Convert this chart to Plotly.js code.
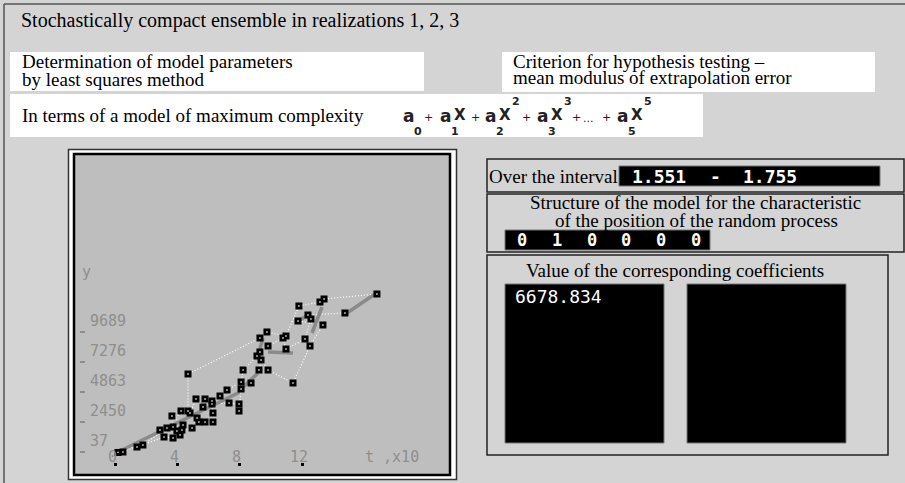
<!DOCTYPE html>
<html><head><meta charset="utf-8">
<script src="https://cdn.plot.ly/plotly-3.0.1.min.js"></script>
<style>html,body{margin:0;padding:0;background:#d4d4d4;}#chart{width:905px;height:483px;}</style>
</head><body><div id="chart"></div>
<script>
const W = 905, H = 483;

// ---- data: three realizations (t in units x10, y) ----
const r1x = [0.19, 1.79, 3.33, 4.23, 4.68, 4.68, 9.29, 9.74, 10.96, 11.79, 13.14, 13.40, 16.79];
const r1y = [0, 600, 1967, 3335, 3335, 6311, 9206, 9689, 9367, 11780, 12102, 12343, 12745];
const r2x = [0.51, 2.88, 3.72, 4.36, 3.65, 4.81, 5.19, 5.64, 5.77, 6.22, 6.73, 7.18, 8.08, 8.21, 9.10, 9.29, 9.81, 10.77, 10.96, 12.18, 12.56, 12.37, 14.74];
const r2y = [37, 1806, 2048, 2209, 2932, 3174, 4300, 3656, 4300, 4139, 4541, 5024, 5667, 6632, 7758, 8080, 8563, 9206, 8321, 9126, 10734, 11056, 11217];
const r3x = [1.41, 3.14, 3.72, 4.17, 3.97, 4.29, 4.94, 5.26, 5.38, 5.77, 6.28, 6.28, 6.22, 7.31, 7.95, 7.95, 8.08, 8.72, 9.23, 9.36, 9.81, 11.41, 12.50, 13.33, 11.73];
const r3y = [439, 1243, 1163, 1404, 1726, 1806, 1967, 2772, 2450, 2450, 2450, 3174, 3898, 3978, 3898, 3335, 5104, 5587, 6632, 7437, 6632, 5587, 8563, 10252, 10573];
// fitted model segments
const fitX = [0.13, 8.01, null, 8.01, 9.17, null, 9.49, 9.17, null, 9.81, 11.41, null, 11.86, 12.37, null, 13.27, 12.63, null, 14.87, 16.67];
const fitY = [0, 4863, null, 5024, 6391, null, 9206, 7839, null, 8080, 8000, null, 10654, 11056, null, 11699, 9608, null, 11217, 12745];

// ---- tick labels ----
const xTickVals = [0, 4, 8, 12];
const xTickText = ['0', '4', '8', '12'];
const yTickVals = [37, 2450, 4863, 7276, 9689];
const yTickText = ['37', '2450', '4863', '7276', '9689'];
const xAxisLabel = 't ,x10';
const yAxisLabel = 'y';

// ---- panel texts / values ----
const titleText = 'Stochastically compact ensemble in realizations 1, 2, 3';
const box1Lines = ['Determination of model parameters', 'by least squares method'];
const box2Lines = ['Criterion for hypothesis testing –', 'mean modulus of extrapolation error'];
const box3Text = 'In terms of a model of maximum complexity';
const formulaPowers = [0, 1, 2, 3, 5];
const intervalLabel = 'Over the interval';
const intervalFrom = '1.551', intervalTo = '1.755';
const structLines = ['Structure of the model for the characteristic', 'of the position of the random process'];
const structure = [0, 1, 0, 0, 0, 0];
const coefTitle = 'Value of the corresponding coefficients';
const coefficients = ['6678.834'];

// ---- helpers ----
const fx = p => p / W, fy = p => 1 - p / H;
const SERIF = 'Liberation Serif, Times New Roman, serif';
const MONO = 'DejaVu Sans Mono, monospace';
const SANS = 'DejaVu Sans, sans-serif';
const AXC = '#8e8e8e';
function rect(x0, y0, x1, y1, fill, lc, lw) {
  return {type: 'rect', xref: 'paper', yref: 'paper', x0: fx(x0), x1: fx(x1), y0: fy(y0), y1: fy(y1),
    fillcolor: fill, line: {color: lc || 'rgba(0,0,0,0)', width: lw || 0}, layer: 'below'};
}
function line(x0, y0, x1, y1, c, w) {
  return {type: 'line', xref: 'paper', yref: 'paper', x0: fx(x0), x1: fx(x1), y0: fy(y0), y1: fy(y1), line: {color: c, width: w}, layer: 'below'};
}
function ann(text, x, y, o) {
  return Object.assign({xref: 'paper', yref: 'paper', x: fx(x), y: fy(y), text: text, showarrow: false,
    xanchor: 'left', yanchor: 'middle', borderpad: 0, font: {family: SERIF, size: 19, color: '#000'}}, o || {});
}

const shapes = [
  line(4, 4, 4, 483, '#555', 1.5), line(4, 4, 905, 4, '#555', 1.5),
  rect(10, 52, 424, 91, '#fff'),
  rect(502, 52, 875, 92, '#fff'),
  rect(10, 94, 703, 137, '#fff'),
  rect(68.5, 149.5, 456.5, 479.5, '#fff', '#333', 1.5),
  rect(74, 154, 450, 475, '#bebebe', '#000', 2.5),
  rect(487, 159, 904, 192, 'rgba(0,0,0,0)', '#222', 1.5),
  rect(619, 166, 880, 186, '#000', '#777', 1),
  rect(487, 194, 904, 252, 'rgba(0,0,0,0)', '#222', 1.5),
  rect(505, 230, 710, 250, '#000', '#777', 1),
  rect(487, 255, 888, 455, 'rgba(0,0,0,0)', '#222', 1.5),
  rect(505, 284, 664, 443, '#000', '#777', 1),
  rect(687, 284, 846, 443, '#000', '#777', 1)
];

const AXFONT = {family: MONO, size: 15, color: AXC};
const annotations = [
  ann(titleText, 20, 21, {font: {family: SERIF, size: 20, color: '#000'}}),
  ann(box1Lines[0], 21, 62), ann(box1Lines[1], 21, 79),
  ann(box2Lines[0], 512, 61), ann(box2Lines[1], 512, 78),
  ann(box3Text, 21, 116),
  ann(intervalLabel, 488, 176),
  ann(intervalFrom, 631, 176, {font: {family: MONO, size: 18, color: '#fff', weight: 'bold'}}),
  ann('-', 709, 176, {font: {family: MONO, size: 18, color: '#fff', weight: 'bold'}}),
  ann(intervalTo, 742, 176, {font: {family: MONO, size: 18, color: '#fff', weight: 'bold'}}),
  ann(structLines[0], 695, 202, {xanchor: 'center'}),
  ann(structLines[1], 696, 221, {xanchor: 'center'}),
  ann(coefTitle, 675, 270, {xanchor: 'center'}),
  ann(coefficients[0], 514, 296, {font: {family: MONO, size: 18, color: '#fff'}}),
  ann(yAxisLabel, 81, 272, {font: AXFONT}),
  ann(xAxisLabel, 364, 457, {font: AXFONT})
];
structure.forEach((d, i) => annotations.push(ann(String(d), 516 + i * 34.8, 240, {font: {family: MONO, size: 17, color: '#fff', weight: 'bold'}})));
// axis tick labels, placed through the axes' own scales
xTickVals.forEach((v, i) => annotations.push({xref: 'x', yref: 'paper', x: v, y: fy(457), text: xTickText[i], showarrow: false,
  xanchor: 'center', yanchor: 'middle', xshift: -3, borderpad: 0, font: AXFONT}));
yTickVals.forEach((v, i) => annotations.push({xref: 'paper', yref: 'y', x: fx(89), y: v, text: yTickText[i], showarrow: false,
  xanchor: 'left', yanchor: 'middle', yshift: 11, borderpad: 0, font: AXFONT}));

// formula pieces
const aLeft = [403, 440, 485, 537, 617];
const plusLeft = [423, 470, 521, 571, 601];
const FMAIN = {family: SANS, size: 17, color: '#222', weight: 'bold'};
const FX = {family: SANS, size: 15, color: '#222', weight: 'bold'};
const FSMALL = {family: SANS, size: 11, color: '#222', weight: 'bold'};
const FPLUS = {family: SANS, size: 11, color: '#222'};
formulaPowers.forEach((p, i) => {
  const a = aLeft[i];
  annotations.push(ann('a', a - 1, 116, {font: FMAIN}));
  annotations.push(ann(String(p), a + 10, 131, {font: FSMALL}));
  if (p > 0) annotations.push(ann('X', a + 13, 115, {font: FX}));
  if (p > 1) annotations.push(ann(String(p), a + 26, 102, {font: FSMALL}));
});
plusLeft.forEach(x => annotations.push(ann('+', x, 117, {font: FPLUS})));
annotations.push(ann('...', 582, 119, {font: FPLUS}));

const dotLine = {color: '#ffffff', width: 1.2, dash: '1px,2px'};
const allX = r1x.concat(r2x, r3x), allY = r1y.concat(r2y, r3y);
const traces = [
  {x: r1x, y: r1y, mode: 'lines', line: dotLine, hoverinfo: 'skip'},
  {x: r2x, y: r2y, mode: 'lines', line: dotLine, hoverinfo: 'skip'},
  {x: r3x, y: r3y, mode: 'lines', line: dotLine, hoverinfo: 'skip'},
  {x: fitX, y: fitY, mode: 'lines', line: {color: '#8a8a8a', width: 3.5}, connectgaps: false},
  {x: allX, y: allY, mode: 'markers', marker: {symbol: 'square', size: 7, color: '#000', line: {width: 0}}},
  {x: allX, y: allY, mode: 'markers', marker: {symbol: 'square', size: 1.3, color: '#fff', line: {width: 0}}}
];

const layout = {
  width: W, height: H, margin: {l: 0, r: 0, t: 0, b: 0},
  paper_bgcolor: '#d4d4d4', plot_bgcolor: 'rgba(0,0,0,0)', showlegend: false,
  xaxis: {domain: [fx(78), fx(446)], range: [-2.372, 21.218], anchor: 'free', position: fy(462),
    showgrid: false, zeroline: false, showline: false, showticklabels: false,
    tickmode: 'array', tickvals: xTickVals,
    ticks: 'outside', ticklen: 3, tickwidth: 3, tickcolor: '#000'},
  yaxis: {domain: [fy(470), fy(156)], range: [-1411, 23844], anchor: 'free', position: fx(79),
    showgrid: false, zeroline: false, showline: false, showticklabels: false,
    tickmode: 'array', tickvals: yTickVals,
    ticks: 'inside', ticklen: 5, tickwidth: 1.5, tickcolor: AXC},
  shapes: shapes, annotations: annotations
};
Plotly.newPlot('chart', traces, layout, {staticPlot: true, displayModeBar: false});
</script></body></html>
